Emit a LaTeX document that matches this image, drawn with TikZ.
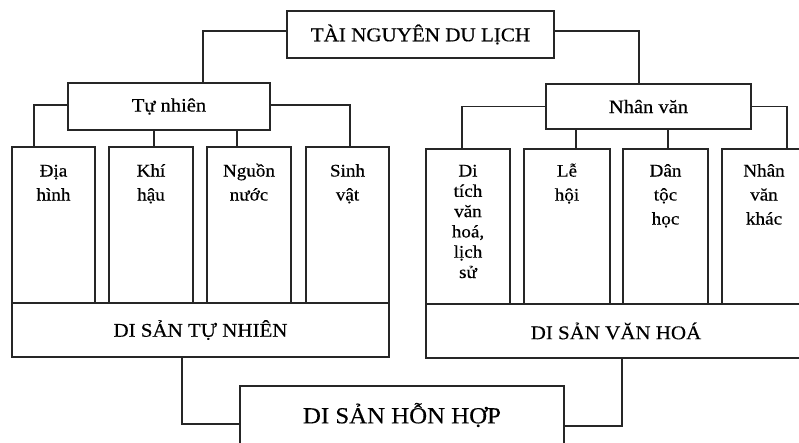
\documentclass[tikz,border=0pt]{standalone}
\usepackage{fontspec}
\setmainfont[FakeStretch=1.08,FakeBold=0.4]{Liberation Serif}
\newcommand\colstrut{\rule{0pt}{13pt}}
\begin{document}
\begin{tikzpicture}[x=1pt,y=-1pt,line width=1.3pt,
  box/.style={draw=black!85, rectangle, inner sep=0pt},
  colbox/.style={box, minimum height=156},
  rcolbox/.style={box, minimum height=155},
  coltext/.style={anchor=north, inner sep=0pt, align=center, font=\fontsize{17.7}{24}\selectfont},
  conn/.style={draw=black!85}]
\fill[white] (0,0) rectangle (799,442);
\useasboundingbox (0,0) rectangle (799,442);
\clip (0,0) rectangle (799,442);

% top level
\node[box, minimum width=267, minimum height=47, font=\fontsize{19.5}{22}\selectfont] (top) at (420.5,34.5) {TÀI NGUYÊN DU LỊCH};
\node[box, minimum width=202, minimum height=47, font=\fontsize{19}{22}\selectfont] (tn) at (169,106.5) {Tự nhiên};
\node[box, minimum width=205, minimum height=45, font=\fontsize{19}{22}\selectfont] (nv) at (648.5,106.5) {Nhân văn};

% left columns
\node[colbox, minimum width=83] (a1) at (53.5,225) {};
\node[colbox, minimum width=84] (a2) at (151,225) {};
\node[colbox, minimum width=84] (a3) at (249,225) {};
\node[colbox, minimum width=83] (a4) at (347.5,225) {};
\node[coltext] (ta1) at ([yshift=-16.5pt]a1.north) {\colstrut Địa\\hình};
\node[coltext] (ta2) at ([yshift=-16.5pt]a2.north) {\colstrut Khí\\hậu};
\node[coltext] (ta3) at ([yshift=-16.5pt]a3.north) {\colstrut Nguồn\\nước};
\node[coltext] (ta4) at ([yshift=-16.5pt]a4.north) {\colstrut Sinh\\vật};

% right columns
\node[rcolbox, minimum width=84] (b1) at (468,226.5) {};
\node[rcolbox, minimum width=86] (b2) at (567,226.5) {};
\node[rcolbox, minimum width=85] (b3) at (665.5,226.5) {};
\node[rcolbox, minimum width=84] (b4) at (764,226.5) {};
\node[coltext, font=\fontsize{17.7}{20.3}\selectfont] (tb1) at ([yshift=-14.5pt]b1.north) {\colstrut Di\\tích\\văn\\hoá,\\lịch\\sử};
\node[coltext] (tb2) at ([yshift=-14.5pt]b2.north) {\colstrut Lễ\\hội};
\node[coltext] (tb3) at ([yshift=-14.5pt]b3.north) {\colstrut Dân\\tộc\\học};
\node[coltext] (tb4) at ([yshift=-14.5pt]b4.north) {\colstrut Nhân\\văn\\khác};

% heritage boxes
\node[box, minimum width=377, minimum height=54, font=\fontsize{19.4}{22}\selectfont] (dtn) at (200.5,330) {DI SẢN TỰ NHIÊN};
\node[box, minimum width=380, minimum height=54, font=\fontsize{19.4}{22}\selectfont] (dvh) at (616,331) {DI SẢN VĂN HOÁ};
\node[box, minimum width=324, minimum height=58, font=\fontsize{23}{26}\selectfont] (hh) at (402,415) {DI SẢN HỖN HỢP};

% connectors
\draw[conn] ([yshift=3.5pt]top.west) -| ([xshift=34pt]tn.north);
\draw[conn] ([yshift=3.5pt]top.east) -| ([xshift=-9.5pt]nv.north);
\draw[conn] ([yshift=1.5pt]tn.west) -| ([xshift=-19.5pt]a1.north);
\draw[conn] ([yshift=1.5pt]tn.east) -| ([xshift=2.5pt]a4.north);
\coordinate (p2) at ([xshift=3pt]a2.north);
\coordinate (p3) at ([xshift=-12pt]a3.north);
\draw[conn] (p2) -- (p2 |- tn.south);
\draw[conn] (p3) -- (p3 |- tn.south);
\draw[conn] (nv.west) -| ([xshift=-6pt]b1.north);
\draw[conn] (nv.east) -| ([xshift=23pt]b4.north);
\coordinate (q2) at ([xshift=9pt]b2.north);
\coordinate (q3) at ([xshift=2.5pt]b3.north);
\draw[conn] (q2) -- (q2 |- nv.south);
\draw[conn] (q3) -- (q3 |- nv.south);
\draw[conn] ([xshift=-18.5pt]dtn.south) |- ([yshift=-9pt]hh.west);
\draw[conn] ([xshift=6pt]dvh.south) |- ([yshift=-11pt]hh.east);
\end{tikzpicture}
\end{document}
